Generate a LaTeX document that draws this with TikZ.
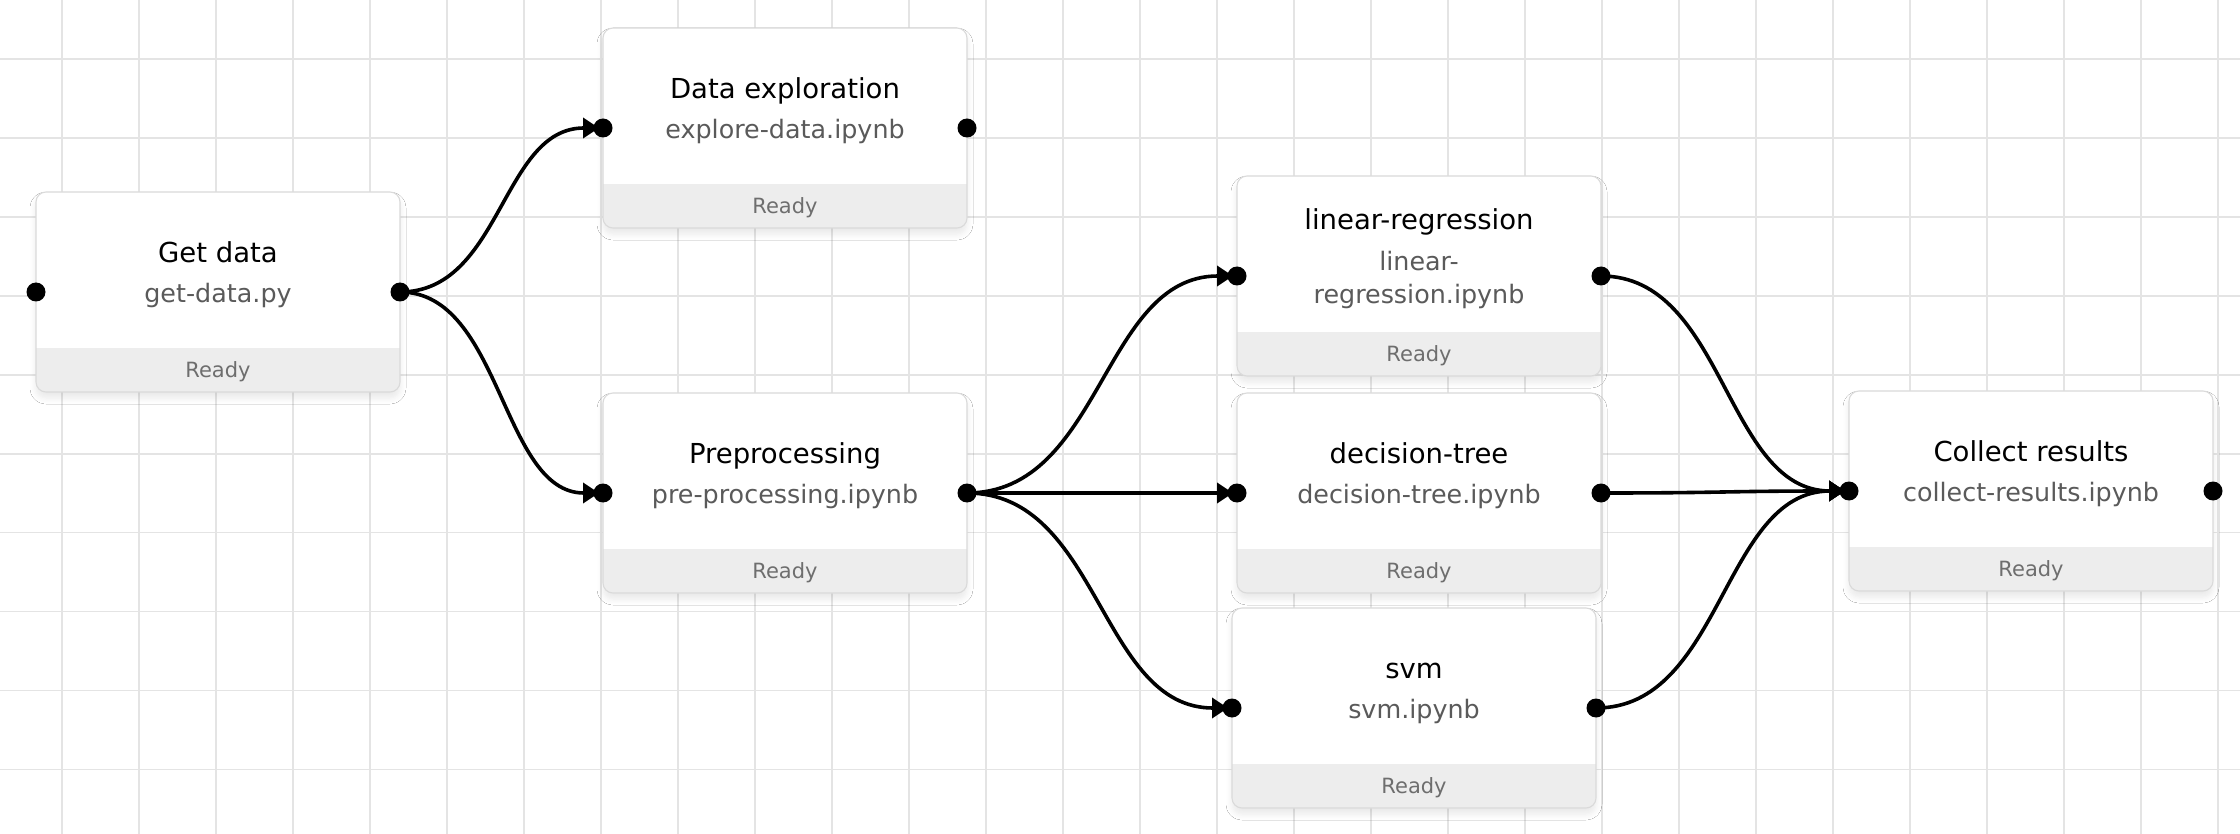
\documentclass[tikz,border=0pt]{standalone}
\usepackage{fontspec}
\setmainfont{DejaVu Sans}
\usetikzlibrary{calc,arrows.meta,shadows.blur}

\definecolor{gridline}{HTML}{E4E4E4}
\definecolor{cardedge}{HTML}{DADADA}
\definecolor{footerfill}{HTML}{EDEDED}
\definecolor{filetext}{HTML}{5A5A5A}
\definecolor{statustext}{HTML}{6E6E6E}

\tikzset{
  card/.style={anchor=north west, minimum width=182pt, minimum height=100pt,
    inner sep=0pt, outer sep=0pt, rounded corners=5pt, fill=white,
    blur shadow={shadow xshift=0pt, shadow yshift=-3pt,
      shadow blur radius=3pt, shadow blur steps=8, shadow opacity=9}},
  cardtitle/.style={anchor=base, inner sep=0pt,
    font=\fontsize{13.75}{16}\selectfont, text=black},
  cardfile/.style={anchor=base, inner sep=0pt,
    font=\fontsize{12.7}{15}\selectfont, text=filetext},
  cardstatus/.style={anchor=base, inner sep=0pt,
    font=\fontsize{10.5}{13}\selectfont, text=statustext},
  port/.style={circle, fill=black, inner sep=0pt, minimum size=9.5pt},
  flow/.style={line width=1.8pt, -{Triangle[length=8pt,width=10pt]},
    shorten >=2pt},
}

% card frame: white body, grey status strip, thin border
\newcommand\stagecard[3]{%
  \node[card] (#1) at (#2,#3) {};
  \begin{scope}
    \clip[rounded corners=5pt] (#1.north west) rectangle (#1.south east);
    \fill[footerfill] ($(#1.south west)+(0,-44)$) rectangle (#1.south east);
  \end{scope}
  \draw[cardedge, line width=0.55pt, rounded corners=5pt]
    (#1.north west) rectangle (#1.south east);
  \node[cardstatus] (#1-status) at ($(#1.north)+(0,185.5)$) {Ready};
}

% title and one-line file name
\newcommand\cardtext[3]{%
  \node[cardtitle] (#1-title) at ($(#1.north)+(0,70.5)$) {#2};
  \node[cardfile] (#1-file) at ($(#1.north)+(0,110.5)$) {#3};
}

% horizontal-tangent bezier between output and input ports
\newcommand\flowlink[2]{%
  \coordinate (mid) at ($(#1.east)!0.5!(#2.west)$);
  \draw[flow] (#1.east) .. controls (mid |- #1.east) and (mid |- #2.west) .. (#2.west);
}

\begin{document}
\begin{tikzpicture}[x=0.5pt, y=-0.5pt]
  \useasboundingbox (0,0) rectangle (2240,834);
  \fill[white] (0,0) rectangle (2240,834);

  % canvas grid
  \foreach \k in {0,...,28}
    \draw[gridline, line width=0.65pt] ({62+77*\k},0) -- ({62+77*\k},834);
  \foreach \k in {0,...,9}
    \draw[gridline, line width=0.65pt] (0,{59+78.97*\k}) -- (2240,{59+78.97*\k});

  % pipeline stages
  \stagecard{getdata}{36}{192}
  \cardtext{getdata}{Get data}{get-data.py}

  \stagecard{explore}{603}{28}
  \cardtext{explore}{Data exploration}{explore-data.ipynb}

  \stagecard{preproc}{603}{393}
  \cardtext{preproc}{Preprocessing}{pre-processing.ipynb}

  \stagecard{linreg}{1237}{176}
  \node[cardtitle] (linreg-title) at ($(linreg.north)+(0,54)$) {linear-regression};
  \node[cardfile] (linreg-file1) at ($(linreg.north)+(0,95)$) {linear-};
  \node[cardfile] (linreg-file2) at ($(linreg.north)+(0,128)$) {regression.ipynb};

  \stagecard{dtree}{1237}{393}
  \cardtext{dtree}{decision-tree}{decision-tree.ipynb}

  \stagecard{svm}{1232}{608}
  \cardtext{svm}{svm}{svm.ipynb}

  \stagecard{collect}{1849}{391}
  \cardtext{collect}{Collect results}{collect-results.ipynb}

  % dependencies
  \flowlink{getdata}{explore}
  \flowlink{getdata}{preproc}
  \flowlink{preproc}{linreg}
  \flowlink{preproc}{dtree}
  \flowlink{preproc}{svm}
  \flowlink{linreg}{collect}
  \flowlink{dtree}{collect}
  \flowlink{svm}{collect}

  % input and output ports
  \foreach \n in {getdata,explore,preproc,linreg,dtree,svm,collect}{
    \node[port] (\n-in) at (\n.west) {};
    \node[port] (\n-out) at (\n.east) {};
  }
\end{tikzpicture}
\end{document}
